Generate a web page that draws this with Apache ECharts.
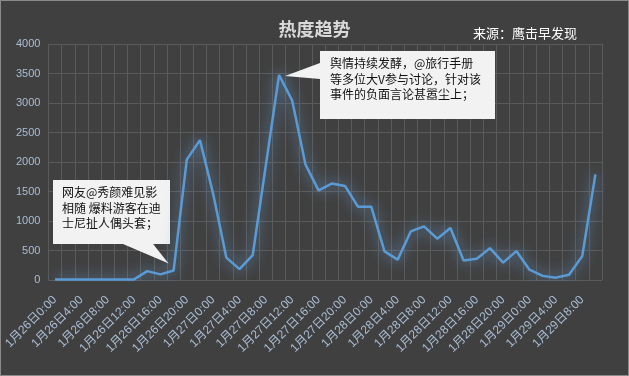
<!DOCTYPE html>
<html>
<head>
<meta charset="utf-8">
<script src="https://cdn.jsdelivr.net/npm/echarts@6/dist/echarts.min.js"></script>
<style>
  html, body { margin: 0; padding: 0; background: #404040; }
  #chart { width: 627px; height: 374px; border: 1px solid #8a8a8a; }
</style>
</head>
<body>
<div id="chart"></div>
<script>
  // 时间点，每两小时一个
  var times = [
    '1月26日0:00', '1月26日2:00', '1月26日4:00', '1月26日6:00', '1月26日8:00', '1月26日10:00',
    '1月26日12:00', '1月26日14:00', '1月26日16:00', '1月26日18:00', '1月26日20:00', '1月26日22:00',
    '1月27日0:00', '1月27日2:00', '1月27日4:00', '1月27日6:00', '1月27日8:00', '1月27日10:00',
    '1月27日12:00', '1月27日14:00', '1月27日16:00', '1月27日18:00', '1月27日20:00', '1月27日22:00',
    '1月28日0:00', '1月28日2:00', '1月28日4:00', '1月28日6:00', '1月28日8:00', '1月28日10:00',
    '1月28日12:00', '1月28日14:00', '1月28日16:00', '1月28日18:00', '1月28日20:00', '1月28日22:00',
    '1月29日0:00', '1月29日2:00', '1月29日4:00', '1月29日6:00', '1月29日8:00', '1月29日10:00'
  ];
  // 热度值
  var heat = [
    10, 10, 10, 10, 10, 10, 10, 150, 95, 160, 2040, 2370,
    1460, 380, 185, 420, 1950, 3475, 3040, 1960, 1520, 1635,
    1595, 1240, 1240, 485, 345, 825, 910, 700, 880, 330,
    360, 540, 295, 490, 175, 70, 40, 90, 405, 1790
  ];
  var yTicks = { min: 0, max: 4000, interval: 500 };

  var note1 = ['网友@秀颜难见影', '相随 爆料游客在迪', '士尼扯人偶头套；'];
  var note2 = ['舆情持续发酵，@旅行手册', '等多位大V参与讨论，针对该', '事件的负面言论甚嚣尘上；'];
  var note1Index = 9;
  var note2Index = 17;

  var myChart = echarts.init(document.getElementById('chart'));
  var labelColor = '#aabdd4';
  var gridColor = '#5a5a5a';

  var option = {
    backgroundColor: '#404040',
    animation: false,
    title: {
      text: '热度趋势',
      left: 'center',
      top: 14,
      textStyle: {
        color: '#d9d9d9',
        fontSize: 18,
        fontWeight: 'bold',
        fontFamily: 'Noto Sans CJK SC'
      }
    },
    grid: { left: 45, right: 26, top: 43, bottom: 95 },
    xAxis: {
      type: 'category',
      data: times,
      boundaryGap: true,
      axisLine: { show: false },
      axisTick: { show: false },
      axisLabel: {
        interval: 1,
        rotate: 45,
        margin: 18,
        color: labelColor,
        fontSize: 12,
        fontFamily: 'Liberation Sans, Noto Sans CJK SC'
      },
      splitLine: { show: true, interval: 0, lineStyle: { color: gridColor, width: 1 } }
    },
    yAxis: {
      type: 'value',
      min: yTicks.min,
      max: yTicks.max,
      interval: yTicks.interval,
      axisLine: { show: false },
      axisTick: { show: false },
      axisLabel: {
        margin: 8,
        color: labelColor,
        fontSize: 11,
        fontFamily: 'Liberation Sans',
        formatter: function (v) { return String(v); }
      },
      splitLine: { lineStyle: { color: gridColor, width: 1 } }
    },
    series: [
      {
        type: 'line',
        name: '热度',
        data: heat,
        symbol: 'none',
        lineStyle: {
          color: '#5b9bd5',
          width: 2.5,
          shadowBlur: 14,
          shadowColor: 'rgba(110,170,230,1)'
        }
      }
    ]
  };
  myChart.setOption(option);

  // 标注框，尖角指向对应数据点
  var p1 = myChart.convertToPixel({ seriesIndex: 0 }, [note1Index, heat[note1Index]]);
  var p2 = myChart.convertToPixel({ seriesIndex: 0 }, [note2Index, heat[note2Index]]);
  var tip1 = [p1[0] - 5, p1[1] - 7];
  var tip2 = [p2[0] + 6, p2[1] + 1];

  var noteText = {
    fill: '#111111',
    fontSize: 12,
    fontFamily: 'Noto Sans CJK SC',
    lineHeight: 15.5
  };

  myChart.setOption({
    graphic: [
      {
        type: 'text',
        left: 472,
        top: 26,
        style: { text: '来源：鹰击早发现', fill: '#ffffff', fontSize: 13, fontFamily: 'Noto Sans CJK SC' }
      },
      {
        type: 'polygon',
        shape: {
          points: [[52, 179], [169, 179], [169, 243], [152, 243], tip1, [122, 243], [52, 243]]
        },
        style: { fill: '#f2f2f2' }
      },
      {
        type: 'text',
        x: 61,
        y: 184,
        style: Object.assign({ text: note1.join('\n') }, noteText)
      },
      {
        type: 'polygon',
        shape: {
          points: [[319, 50], [494, 50], [494, 118], [319, 118], [319, 78], tip2, [319, 62]]
        },
        style: { fill: '#f2f2f2' }
      },
      {
        type: 'text',
        x: 329,
        y: 55,
        style: Object.assign({ text: note2.join('\n') }, noteText)
      }
    ]
  });
</script>
</body>
</html>
